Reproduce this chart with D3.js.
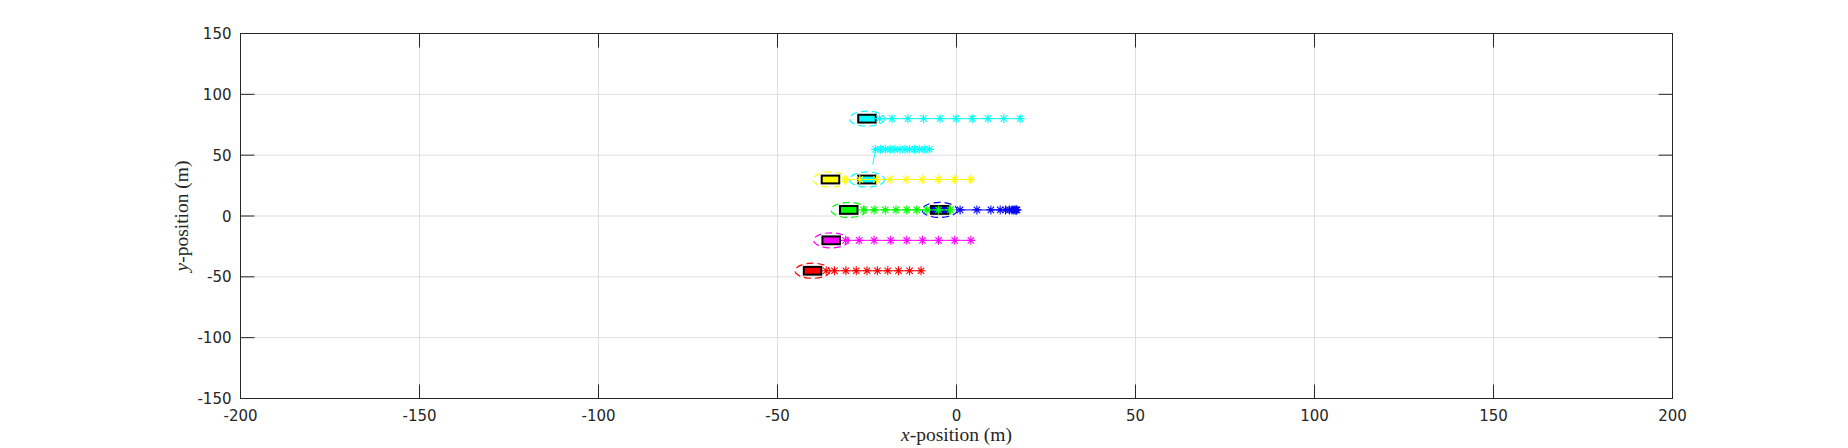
<!DOCTYPE html>
<html><head><meta charset="utf-8">
<script src="https://cdn.jsdelivr.net/npm/d3@7"></script>
<style>body{margin:0;background:#fff}svg{display:block}</style>
</head><body>
<svg id="c" width="1848" height="448"></svg>
<script>
// ---- data ----
const xTicks = [-200,-150,-100,-50,0,50,100,150,200];
const yTicks = [-150,-100,-50,0,50,100,150];
const xLabelVar = "x", yLabelVar = "y";
const labelRest = "-position (m)";

const carColors = ["#00ffff","#00ffff","#ffff00","#00ff00","#0000ff","#ff00ff","#ff0000"];
const carX = [-25, -25, -35.2, -30.1, -4.7, -35, -40.2];
const carY = [80, 30, 30, 5, 5, -20, -45];
const carLen = [4.9, 4.9, 4.9, 4.9, 4.9, 4.9, 4.9];
const carWid = [6.4, 6.4, 6.4, 6.4, 6.4, 6.4, 6.4];
const ellRx = [4.9, 4.9, 4.9, 4.9, 4.9, 4.9, 4.9];
const ellRy = [6.2, 6.2, 6.2, 6.2, 6.2, 6.2, 6.2];

const cyanTopX = [-21.5, -18, -13.6, -9.2, -4.6, -0.1, 4.4, 8.8, 13.2, 17.8];
const cyanTopY = [80, 80, 80, 80, 80, 80, 80, 80, 80, 80];
const cyanLinkX = [-23.4, -22.6];
const cyanLinkY = [42.5, 54.5];
const cyanMidX = [-22.6, -21.2, -19.9, -18.5, -17.2, -15.8, -14.4, -13.1, -11.7, -10.4, -9.0, -7.6];
const cyanMidY = [54.8, 54.8, 54.8, 54.8, 54.8, 54.8, 54.8, 54.8, 54.8, 54.8, 54.8, 54.8];
const yellowX = [-31.2, -27, -22.3, -18.6, -14.1, -9.6, -5.1, -0.6, 4.0];
const yellowY = [30, 30, 30, 30, 30, 30, 30, 30, 30];
const greenX = [-26, -23, -19.9, -16.9, -13.9, -11.1, -8.3, -5.0, -1.7];
const greenY = [5, 5, 5, 5, 5, 5, 5, 5, 5];
const blueX = [1.0, 5.7, 9.6, 12.2, 13.7, 14.8, 15.5, 16.0, 16.4, 16.7, 16.9];
const blueY = [5, 5, 5, 5, 5, 5, 5, 5, 5, 5, 5];
const magentaX = [-31, -27.2, -23, -18.4, -13.9, -9.5, -5.0, -0.5, 4.0];
const magentaY = [-20, -20, -20, -20, -20, -20, -20, -20, -20];
const redX = [-36.4, -34.1, -30.9, -28, -25, -22.1, -19.2, -16.2, -13.1, -9.9];
const redY = [-45, -45, -45, -45, -45, -45, -45, -45, -45, -45];

// ---- layout ----
const L = 240.5, R = 1672.5, T = 33.5, B = 398.5;
const x = d3.scaleLinear().domain([-200, 200]).range([L, R]);
const y = d3.scaleLinear().domain([-150, 150]).range([B, T]);
const svg = d3.select("#c");
const axisCol = "#262626", gridCol = "#dfdfdf";
const tickLen = 14;

// grid
svg.append("g").selectAll("line").data(xTicks.slice(1, -1)).join("line")
  .attr("x1", d => x(d)).attr("x2", d => x(d)).attr("y1", T).attr("y2", B)
  .attr("stroke", gridCol).attr("stroke-width", 1);
svg.append("g").selectAll("line").data(yTicks.slice(1, -1)).join("line")
  .attr("y1", d => y(d)).attr("y2", d => y(d)).attr("x1", L).attr("x2", R)
  .attr("stroke", gridCol).attr("stroke-width", 1);

const plot = svg.append("g");

// cars
const cars = carX.map((cx, i) => ({cx, cy: carY[i], c: carColors[i], l: carLen[i], w: carWid[i], rx: ellRx[i], ry: ellRy[i]}));
plot.append("g").selectAll("rect").data(cars).join("rect")
  .attr("x", d => x(d.cx - d.l / 2)).attr("y", d => y(d.cy + d.w / 2))
  .attr("width", d => x(d.cx + d.l / 2) - x(d.cx - d.l / 2))
  .attr("height", d => y(d.cy - d.w / 2) - y(d.cy + d.w / 2))
  .attr("fill", d => d.c).attr("stroke", "#000").attr("stroke-width", 2);

// ellipses
plot.append("g").selectAll("ellipse").data(cars).join("ellipse")
  .attr("cx", d => x(d.cx)).attr("cy", d => y(d.cy))
  .attr("rx", d => x(d.cx + d.rx) - x(d.cx)).attr("ry", d => y(d.cy - d.ry) - y(d.cy))
  .attr("fill", "none").attr("stroke", d => d.c).attr("stroke-width", 1.2)
  .attr("stroke-dasharray", "7,4");

// tracks
const tracks = [
  {xs: cyanTopX, ys: cyanTopY, c: "#00ffff"},
  {xs: cyanMidX, ys: cyanMidY, c: "#00ffff"},
  {xs: yellowX, ys: yellowY, c: "#ffff00"},
  {xs: greenX, ys: greenY, c: "#00ff00"},
  {xs: blueX, ys: blueY, c: "#0000ff"},
  {xs: magentaX, ys: magentaY, c: "#ff00ff"},
  {xs: redX, ys: redY, c: "#ff0000"}
];
const line = d3.line().x(d => x(d[0])).y(d => y(d[1]));
plot.append("path").datum(d3.zip(cyanLinkX, cyanLinkY))
  .attr("d", line).attr("fill", "none").attr("stroke", "#00ffff").attr("stroke-width", 1);
const star = (r) => {
  const a = r * Math.SQRT1_2;
  return `M${-r},0L${r},0M0,${-r}L0,${r}M${-a},${-a}L${a},${a}M${-a},${a}L${a},${-a}`;
};
tracks.forEach(t => {
  const pts = d3.zip(t.xs, t.ys);
  plot.append("path").datum(pts).attr("d", line)
    .attr("fill", "none").attr("stroke", t.c).attr("stroke-width", 1);
  plot.append("g").selectAll("path").data(pts).join("path")
    .attr("transform", d => `translate(${x(d[0])},${y(d[1])})`)
    .attr("d", star(4.5)).attr("fill", "none").attr("stroke", t.c).attr("stroke-width", 1.1);
});

// box
svg.append("rect").attr("x", L).attr("y", T).attr("width", R - L).attr("height", B - T)
  .attr("fill", "none").attr("stroke", axisCol).attr("stroke-width", 1);

// ticks
const tk = svg.append("g").attr("stroke", axisCol).attr("stroke-width", 1);
xTicks.forEach(v => {
  tk.append("line").attr("x1", x(v)).attr("x2", x(v)).attr("y1", B).attr("y2", B - tickLen);
  tk.append("line").attr("x1", x(v)).attr("x2", x(v)).attr("y1", T).attr("y2", T + tickLen);
});
yTicks.forEach(v => {
  tk.append("line").attr("y1", y(v)).attr("y2", y(v)).attr("x1", L).attr("x2", L + tickLen);
  tk.append("line").attr("y1", y(v)).attr("y2", y(v)).attr("x1", R).attr("x2", R - tickLen);
});

// tick labels
const tf = "'DejaVu Sans', sans-serif";
svg.append("g").selectAll("text").data(xTicks).join("text")
  .attr("x", d => x(d)).attr("y", B + 22).attr("text-anchor", "middle")
  .attr("font-family", tf).attr("font-size", 15).attr("fill", axisCol).text(d => d);
svg.append("g").selectAll("text").data(yTicks).join("text")
  .attr("x", L - 9).attr("y", d => y(d) + 5.5).attr("text-anchor", "end")
  .attr("font-family", tf).attr("font-size", 15).attr("fill", axisCol).text(d => d);

// axis labels
const sf = "'Liberation Serif', 'DejaVu Serif', serif";
const xl = svg.append("text").attr("x", (L + R) / 2).attr("y", 441).attr("text-anchor", "middle")
  .attr("font-family", sf).attr("font-size", 19.5).attr("fill", axisCol);
xl.append("tspan").attr("font-style", "italic").text(xLabelVar);
xl.append("tspan").text(labelRest);
const yl = svg.append("text").attr("transform", `translate(188,${(T + B) / 2}) rotate(-90)`)
  .attr("text-anchor", "middle")
  .attr("font-family", sf).attr("font-size", 19.5).attr("fill", axisCol);
yl.append("tspan").attr("font-style", "italic").text(yLabelVar);
yl.append("tspan").text(labelRest);
</script>
</body></html>
